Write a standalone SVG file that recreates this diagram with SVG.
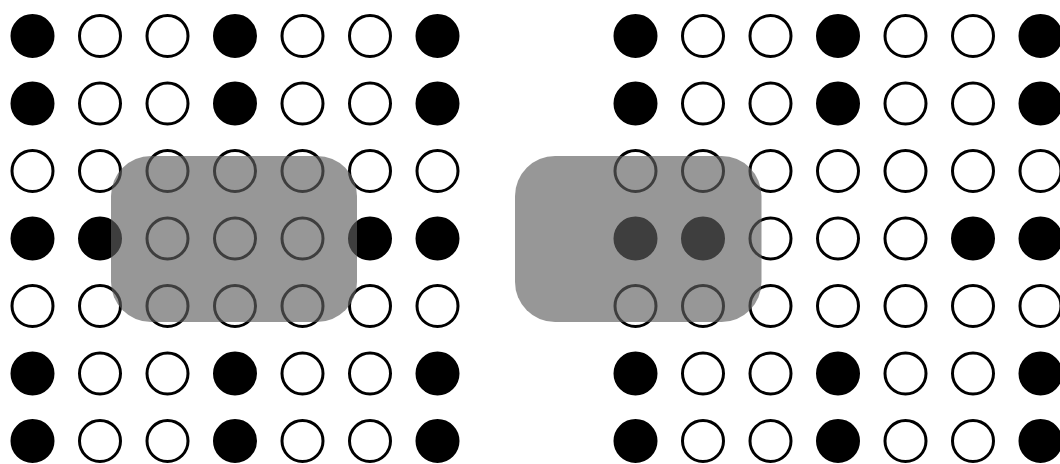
<svg xmlns="http://www.w3.org/2000/svg" xmlns:xlink="http://www.w3.org/1999/xlink" width="1060" height="464" viewBox="0 0 1060 464">
  <style>
    .f { fill: #000; stroke: #000; stroke-width: 3; }
    .o { fill: #fff; stroke: #000; stroke-width: 3; }
    .mask { fill: #5f5f5f; fill-opacity: 0.65; }
  </style>
  <defs>
    <circle id="F" r="20.5" class="f"/>
    <circle id="O" r="20.5" class="o"/>
  </defs>
  <rect width="1060" height="464" fill="#fff"/>
  <g id="left-grid">
    <!-- row 0 -->
    <use href="#F" x="32.5" y="36"/><use href="#O" x="100" y="36"/><use href="#O" x="167.5" y="36"/><use href="#F" x="235" y="36"/><use href="#O" x="302.5" y="36"/><use href="#O" x="370" y="36"/><use href="#F" x="437.5" y="36"/>
    <!-- row 1 -->
    <use href="#F" x="32.5" y="103.5"/><use href="#O" x="100" y="103.5"/><use href="#O" x="167.5" y="103.5"/><use href="#F" x="235" y="103.5"/><use href="#O" x="302.5" y="103.5"/><use href="#O" x="370" y="103.5"/><use href="#F" x="437.5" y="103.5"/>
    <!-- row 2 -->
    <use href="#O" x="32.5" y="171"/><use href="#O" x="100" y="171"/><use href="#O" x="167.5" y="171"/><use href="#O" x="235" y="171"/><use href="#O" x="302.5" y="171"/><use href="#O" x="370" y="171"/><use href="#O" x="437.5" y="171"/>
    <!-- row 3 -->
    <use href="#F" x="32.5" y="238.5"/><use href="#F" x="100" y="238.5"/><use href="#O" x="167.5" y="238.5"/><use href="#O" x="235" y="238.5"/><use href="#O" x="302.5" y="238.5"/><use href="#F" x="370" y="238.5"/><use href="#F" x="437.5" y="238.5"/>
    <!-- row 4 -->
    <use href="#O" x="32.5" y="306"/><use href="#O" x="100" y="306"/><use href="#O" x="167.5" y="306"/><use href="#O" x="235" y="306"/><use href="#O" x="302.5" y="306"/><use href="#O" x="370" y="306"/><use href="#O" x="437.5" y="306"/>
    <!-- row 5 -->
    <use href="#F" x="32.5" y="373.5"/><use href="#O" x="100" y="373.5"/><use href="#O" x="167.5" y="373.5"/><use href="#F" x="235" y="373.5"/><use href="#O" x="302.5" y="373.5"/><use href="#O" x="370" y="373.5"/><use href="#F" x="437.5" y="373.5"/>
    <!-- row 6 -->
    <use href="#F" x="32.5" y="441"/><use href="#O" x="100" y="441"/><use href="#O" x="167.5" y="441"/><use href="#F" x="235" y="441"/><use href="#O" x="302.5" y="441"/><use href="#O" x="370" y="441"/><use href="#F" x="437.5" y="441"/>
  </g>
  <g id="right-grid" transform="translate(603,0)">
    <use href="#F" x="32.5" y="36"/><use href="#O" x="100" y="36"/><use href="#O" x="167.5" y="36"/><use href="#F" x="235" y="36"/><use href="#O" x="302.5" y="36"/><use href="#O" x="370" y="36"/><use href="#F" x="437.5" y="36"/>
    <use href="#F" x="32.5" y="103.5"/><use href="#O" x="100" y="103.5"/><use href="#O" x="167.5" y="103.5"/><use href="#F" x="235" y="103.5"/><use href="#O" x="302.5" y="103.5"/><use href="#O" x="370" y="103.5"/><use href="#F" x="437.5" y="103.5"/>
    <use href="#O" x="32.5" y="171"/><use href="#O" x="100" y="171"/><use href="#O" x="167.5" y="171"/><use href="#O" x="235" y="171"/><use href="#O" x="302.5" y="171"/><use href="#O" x="370" y="171"/><use href="#O" x="437.5" y="171"/>
    <use href="#F" x="32.5" y="238.5"/><use href="#F" x="100" y="238.5"/><use href="#O" x="167.5" y="238.5"/><use href="#O" x="235" y="238.5"/><use href="#O" x="302.5" y="238.5"/><use href="#F" x="370" y="238.5"/><use href="#F" x="437.5" y="238.5"/>
    <use href="#O" x="32.5" y="306"/><use href="#O" x="100" y="306"/><use href="#O" x="167.5" y="306"/><use href="#O" x="235" y="306"/><use href="#O" x="302.5" y="306"/><use href="#O" x="370" y="306"/><use href="#O" x="437.5" y="306"/>
    <use href="#F" x="32.5" y="373.5"/><use href="#O" x="100" y="373.5"/><use href="#O" x="167.5" y="373.5"/><use href="#F" x="235" y="373.5"/><use href="#O" x="302.5" y="373.5"/><use href="#O" x="370" y="373.5"/><use href="#F" x="437.5" y="373.5"/>
    <use href="#F" x="32.5" y="441"/><use href="#O" x="100" y="441"/><use href="#O" x="167.5" y="441"/><use href="#F" x="235" y="441"/><use href="#O" x="302.5" y="441"/><use href="#O" x="370" y="441"/><use href="#F" x="437.5" y="441"/>
  </g>
  <g id="overlays">
    <rect id="left-window" class="mask" x="111" y="156" width="246" height="166" rx="40" ry="40"/>
    <rect id="right-window" class="mask" x="515" y="156" width="246.5" height="166" rx="40" ry="40"/>
  </g>
</svg>
